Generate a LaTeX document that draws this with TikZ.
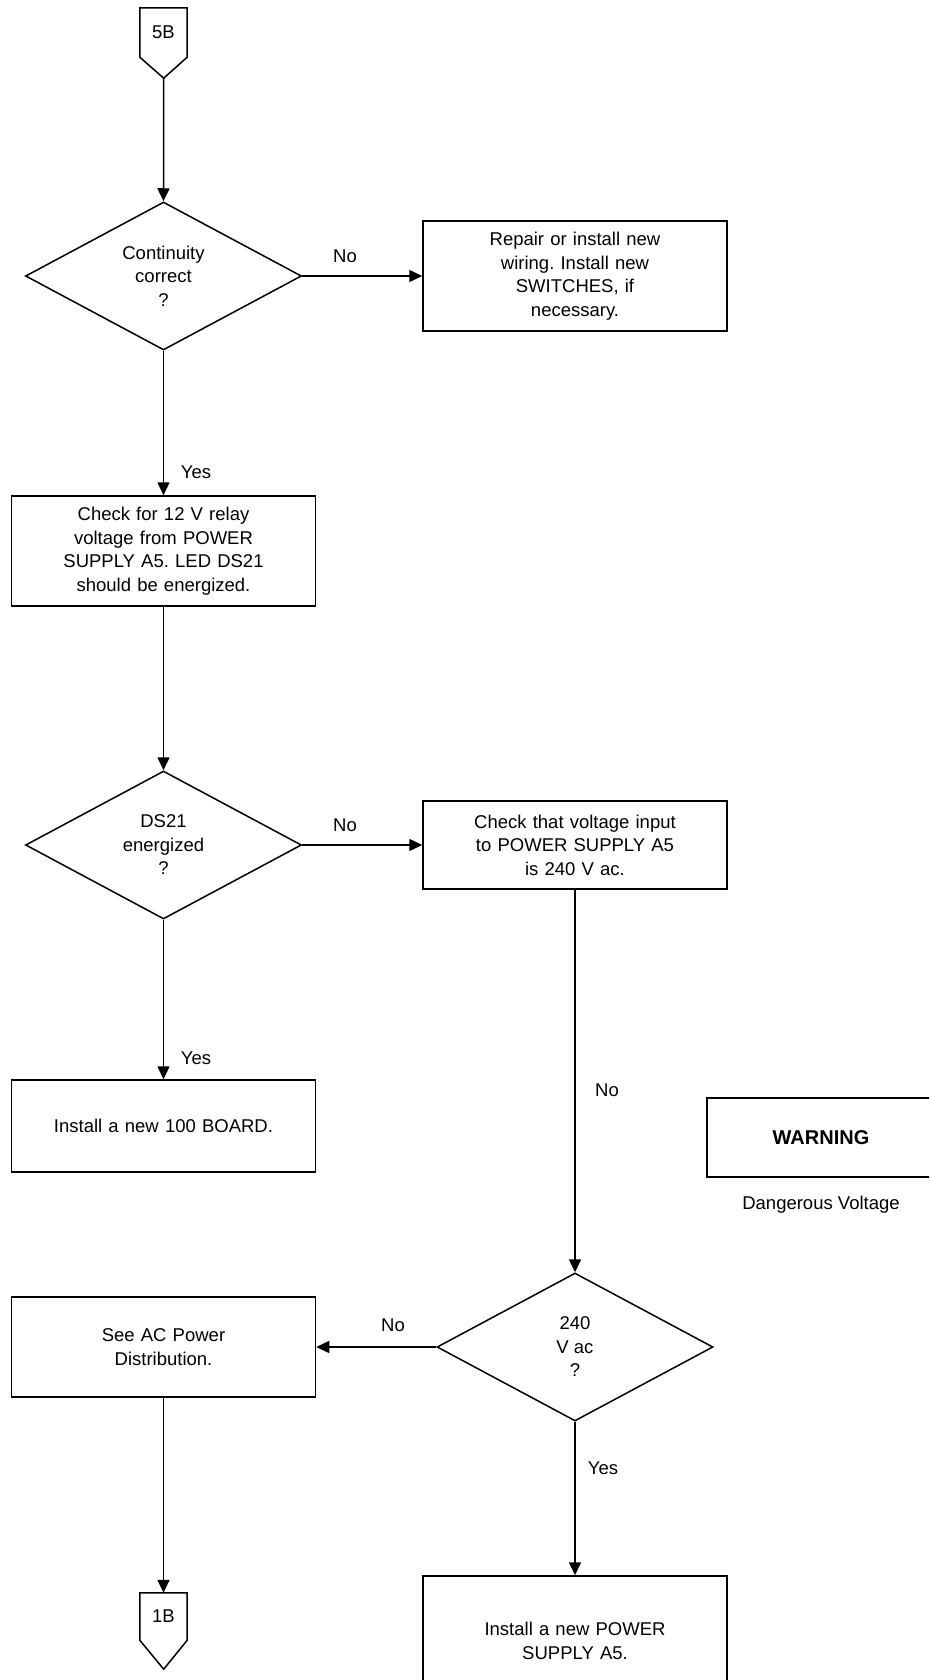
\documentclass[tikz,border=0pt]{standalone}
\usepackage{fontspec}
\setmainfont{Liberation Sans}
\usetikzlibrary{shapes.geometric,arrows.meta}
\frenchspacing
\begin{document}
\begin{tikzpicture}[x=1pt,y=-1pt,
  every node/.style={font=\fontsize{18.5}{23.5}\selectfont},
  box/.style={draw, line width=1.5pt, minimum width=304pt, text width=290pt, align=center, inner sep=0pt},
  dec/.style={draw, diamond, line width=1.5pt, minimum width=276pt, minimum height=148pt, align=center, inner sep=0pt},
  offp/.style={minimum width=47pt, minimum height=49pt, inner sep=0pt},
  conn/.style={line width=1.5pt, -{Triangle[length=13pt,width=12pt]}},
  lbl/.style={inner sep=0pt}
]
\useasboundingbox (0,0) rectangle (929,1680);
\clip (0,0) rectangle (929,1680);

% off-page connector 5B
\node[offp] (c5b) at (163.5,32.5) {5B};
\draw[line width=1.5pt] (c5b.north west) -- (c5b.north east) -- (c5b.south east) -- ++(-23.5,21) coordinate (c5btip) -- (c5b.south west) -- cycle;

% decision 1
\node[dec] (d1) at (163.5,276) {Continuity\\correct\\?};
\node[box, minimum height=110pt] (b1) at (575,276) {Repair or install new\\wiring. Install new\\SWITCHES, if\\necessary.};
\node[box, minimum height=110pt] (b2) at (163.5,551) {Check for 12 V relay\\voltage from POWER\\SUPPLY A5. LED DS21\\should be energized.};

% decision 2
\node[dec] (d2) at (163.5,845) {DS21\\energized\\?};
\node[box, minimum height=88pt] (b3) at (575,845) {Check that voltage input\\to POWER SUPPLY A5\\is 240 V ac.};
\node[box, minimum height=92pt] (b4) at (163.5,1126) {Install a new 100 BOARD.};

% warning
\node[draw, line width=1.5pt, minimum width=228pt, minimum height=79pt, inner sep=0pt, font=\fontsize{20}{24}\selectfont\bfseries] (warn) at (821,1137.5) {WARNING};
\node[lbl] (dv) at (821,1205) {Dangerous Voltage};

% decision 3
\node[dec] (d3) at (575,1347) {240\\V ac\\?};
\node[box, minimum height=100pt] (b5) at (163.5,1347) {See AC Power\\Distribution.};
\node[box, minimum height=130pt] (b6) at (575,1641) {Install a new POWER\\SUPPLY A5.};

% off-page connector 1B
\node[offp, minimum height=47pt] (c1b) at (163.5,1616.5) {1B};
\draw[line width=1.5pt] (c1b.north west) -- (c1b.north east) -- (c1b.south east) -- ++(-23.5,29) coordinate (c1btip) -- (c1b.south west) -- cycle;

% connectors
\draw[conn] (c5btip) -- (d1.north);
\draw[conn] (d1.east) -- (b1.west);
\node[lbl] at (345,256) {No};
\draw[conn] (d1.south) -- (b2.north);
\node[lbl] at (196,472) {Yes};
\draw[conn] (b2.south) -- (d2.north);
\draw[conn] (d2.east) -- (b3.west);
\node[lbl] at (345,825) {No};
\draw[conn] (d2.south) -- (b4.north);
\node[lbl] at (196,1058) {Yes};
\draw[conn] (b3.south) -- (d3.north);
\node[lbl] at (607,1090) {No};
\draw[conn] (d3.west) -- (b5.east);
\node[lbl] at (393,1325) {No};
\draw[conn] (d3.south) -- (b6.north);
\node[lbl] at (603,1468) {Yes};
\draw[conn] (b5.south) -- (c1b.north);
\end{tikzpicture}
\end{document}
